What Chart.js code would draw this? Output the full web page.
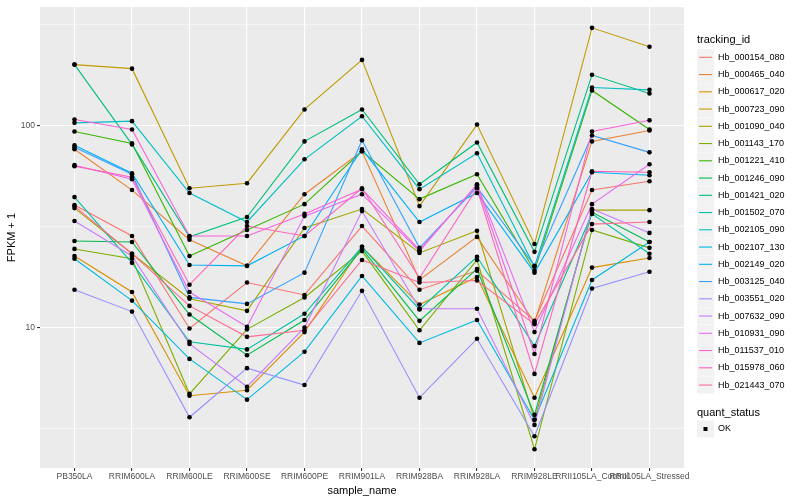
<!DOCTYPE html>
<html>
<head>
<meta charset="utf-8">
<script src="https://cdn.jsdelivr.net/npm/chart.js@4.4.0/dist/chart.umd.min.js"></script>
<style>
  body { margin: 0; background: #fff; }
  #wrap { width: 800px; height: 500px; }
</style>
</head>
<body>
<div id="wrap"><canvas id="myChart" width="800" height="500"></canvas></div>
<script>
// samples on the x axis
var samples = ["PB350LA", "RRIM600LA", "RRIM600LE", "RRIM600SE", "RRIM600PE", "RRIM901LA",
               "RRIM928BA", "RRIM928LA", "RRIM928LE", "RRII105LA_Control", "RRII105LA_Stressed"];

var trackingIds = ["Hb_000154_080", "Hb_000465_040", "Hb_000617_020", "Hb_000723_090", "Hb_001090_040",
                   "Hb_001143_170", "Hb_001221_410", "Hb_001246_090", "Hb_001421_020", "Hb_001502_070",
                   "Hb_002105_090", "Hb_002107_130", "Hb_002149_020", "Hb_003125_040", "Hb_003551_020",
                   "Hb_007632_090", "Hb_010931_090", "Hb_011537_010", "Hb_015978_060", "Hb_021443_070"];

// FPKM + 1
var hb_000154_080 = [40.4, 28.4, 9.9, 16.7, 14.5, 31.8, 15.4, 19.1, 10.8, 47.9, 53.0];
var hb_000465_040 = [76.2, 47.9, 27.2, 20.2, 45.7, 74.5, 17.2, 28.1, 10.6, 83.4, 94.4];
var hb_000617_020 = [22.6, 15.0, 4.6, 4.9, 9.5, 25.1, 13.0, 17.8, 4.5, 19.8, 22.1];
var hb_000723_090 = [200, 191, 48.9, 51.8, 120, 211, 39.9, 101, 25.9, 304, 245];
var hb_001090_040 = [39.0, 23.2, 13.9, 12.1, 31.1, 38.6, 23.4, 30.1, 3.5, 38.1, 38.1];
var hb_001143_170 = [24.5, 21.9, 4.7, 9.8, 14.1, 23.9, 9.7, 21.6, 2.5, 30.4, 24.8];
var hb_001221_410 = [93.4, 81.5, 22.6, 30.4, 40.8, 74.5, 43.2, 57.4, 19.1, 149, 95.5];
var hb_001246_090 = [26.8, 26.5, 11.6, 7.3, 10.9, 24.5, 10.8, 19.5, 3.7, 37.2, 26.5];
var hb_001421_020 = [200, 80.6, 28.1, 35.2, 83.4, 120, 51.2, 82.4, 23.7, 178, 144];
var hb_001502_070 = [44.2, 20.9, 8.5, 7.8, 11.7, 25.1, 12.3, 22.4, 8.1, 36.5, 23.2];
var hb_002105_090 = [103, 105, 46.3, 33.3, 68.0, 111, 48.4, 72.8, 20.0, 154, 150];
var hb_002107_130 = [21.9, 13.6, 7.0, 4.4, 7.6, 18.0, 8.4, 10.9, 3.5, 17.2, 26.5];
var hb_002149_020 = [79.7, 58.0, 20.4, 20.2, 28.4, 76.2, 33.3, 46.3, 18.7, 58.7, 56.7];
var hb_003125_040 = [77.9, 57.4, 14.1, 13.1, 18.7, 84.4, 24.8, 49.5, 20.2, 89.2, 73.6];
var hb_003551_020 = [15.4, 12.0, 3.6, 6.3, 5.2, 15.2, 4.5, 8.8, 2.9, 15.6, 18.9];
var hb_007632_090 = [33.7, 22.6, 8.3, 5.1, 10.0, 37.7, 12.4, 12.4, 3.3, 38.6, 29.4];
var hb_010931_090 = [63.6, 54.2, 15.0, 10.1, 35.6, 45.7, 23.9, 51.2, 9.5, 40.8, 64.3];
var hb_011537_010 = [107, 95.5, 28.4, 28.4, 36.5, 48.4, 24.2, 50.6, 7.4, 93.4, 106];
var hb_015978_060 = [62.9, 55.5, 16.3, 31.8, 28.4, 48.9, 17.6, 48.9, 5.9, 59.3, 58.7];
var hb_021443_070 = [39.9, 23.2, 12.8, 9.0, 9.7, 21.6, 16.7, 17.1, 10.4, 32.5, 33.3];

var yTicks = [3.162, 10, 31.62, 100, 316.2];
var yTickLabels = ["", "10", "", "100", ""];

var allSeries = [hb_000154_080, hb_000465_040, hb_000617_020, hb_000723_090, hb_001090_040,
                 hb_001143_170, hb_001221_410, hb_001246_090, hb_001421_020, hb_001502_070,
                 hb_002105_090, hb_002107_130, hb_002149_020, hb_003125_040, hb_003551_020,
                 hb_007632_090, hb_010931_090, hb_011537_010, hb_015978_060, hb_021443_070];

// ggplot default hue palette, 20 levels
var colors = ["#F8766D", "#EA8331", "#D89000", "#C09B00", "#A3A500", "#7CAE00", "#39B600", "#00BB4E",
              "#00BF7D", "#00C1A3", "#00BFC4", "#00BAE0", "#00B0F6", "#35A2FF", "#9590FF", "#C77CFF",
              "#E76BF3", "#FA62DB", "#FF62BC", "#FF6C91"];

var FONT = "'Liberation Sans', Arial, sans-serif";

function toPoints(arr) {
    var pts = [];
    for (var i = 0; i < arr.length; i++) pts.push({x: i, y: arr[i]});
    return pts;
}

var datasets = [];
for (var s = 0; s < allSeries.length; s++) {
    datasets.push({
        label: trackingIds[s],
        data: toPoints(allSeries[s]),
        borderColor: colors[s],
        borderWidth: 1.1,
        pointRadius: 0,
        fill: false,
        tension: 0,
        order: allSeries.length - s
    });
}
// black points drawn on top of every line
var allPts = [];
for (var s = 0; s < allSeries.length; s++) allPts = allPts.concat(toPoints(allSeries[s]));
datasets.push({
    type: 'scatter',
    label: 'OK',
    data: allPts,
    pointStyle: 'circle',
    pointRadius: 2.3,
    backgroundColor: '#000',
    borderWidth: 0,
    order: -1
});

// panel background + ggplot style legend
var ggPlugin = {
    id: 'gg',
    beforeDraw: function(chart) {
        var a = chart.chartArea, c = chart.ctx;
        c.save();
        c.fillStyle = '#EBEBEB';
        c.fillRect(a.left, a.top, a.right - a.left, a.bottom - a.top);
        c.restore();
    },
    afterDraw: function(chart) {
        var c = chart.ctx;
        c.save();
        c.fillStyle = '#000';
        c.textBaseline = 'middle';
        c.font = '11px ' + FONT;
        c.fillText('tracking_id', 697, 40);
        c.font = '9px ' + FONT;
        for (var i = 0; i < trackingIds.length; i++) {
            var yc = 57.3 + i * 17.25;
            c.fillStyle = '#F2F2F2';
            c.fillRect(697, yc - 8.5, 17, 17);
            c.strokeStyle = colors[i];
            c.lineWidth = 1.1;
            c.beginPath();
            c.moveTo(699, yc);
            c.lineTo(712, yc);
            c.stroke();
            c.fillStyle = '#000';
            c.fillText(trackingIds[i], 718, yc);
        }
        c.font = '11px ' + FONT;
        c.fillText('quant_status', 697, 413);
        c.fillStyle = '#F2F2F2';
        c.fillRect(697, 420.5, 17, 17);
        c.fillStyle = '#000';
        c.fillRect(703.5, 427, 4, 4);
        c.font = '9px ' + FONT;
        c.fillText('OK', 718, 429);
        c.restore();
    }
};

new Chart('myChart', {
    type: 'line',
    data: { datasets: datasets },
    options: {
        responsive: false,
        animation: false,
        layout: { padding: { left: 0, right: 116, top: 5, bottom: 0 } },
        plugins: { legend: { display: false }, tooltip: { enabled: false } },
        scales: {
            x: {
                type: 'linear',
                min: -0.6,
                max: samples.length - 1 + 0.6,
                afterBuildTicks: function(scale) {
                    scale.ticks = samples.map(function(s, i) { return {value: i}; });
                },
                afterFit: function(scale) { scale.height = 32; },
                ticks: {
                    autoSkip: false, maxRotation: 0, minRotation: 0,
                    color: '#4D4D4D', font: { size: 8.5, family: FONT }, padding: 1,
                    callback: function(v) { return samples[v]; }
                },
                grid: { color: '#FFFFFF', lineWidth: 1.1, tickColor: '#333333', tickLength: 3 },
                border: { display: false },
                title: { display: true, text: 'sample_name', color: '#000', font: { size: 11, family: FONT }, padding: { top: 0, bottom: 2 } }
            },
            y: {
                type: 'logarithmic',
                min: 2.02,
                max: 385,
                afterBuildTicks: function(scale) {
                    scale.ticks = yTicks.map(function(v) { return {value: v}; });
                },
                afterFit: function(scale) { scale.width = 40; },
                ticks: {
                    color: '#4D4D4D', font: { size: 8.5, family: FONT }, padding: 2,
                    callback: function(v, i) { return yTickLabels[i]; }
                },
                grid: {
                    color: '#FFFFFF',
                    lineWidth: function(ctx) { return yTickLabels[ctx.index] ? 1.1 : 0.5; },
                    tickColor: function(ctx) { return yTickLabels[ctx.index] ? '#333333' : 'rgba(0,0,0,0)'; },
                    tickLength: 3
                },
                border: { display: false },
                title: { display: true, text: 'FPKM + 1', color: '#000', font: { size: 11, family: FONT }, padding: { top: 5, bottom: 0 } }
            }
        }
    },
    plugins: [ggPlugin]
});
</script>
</body>
</html>
